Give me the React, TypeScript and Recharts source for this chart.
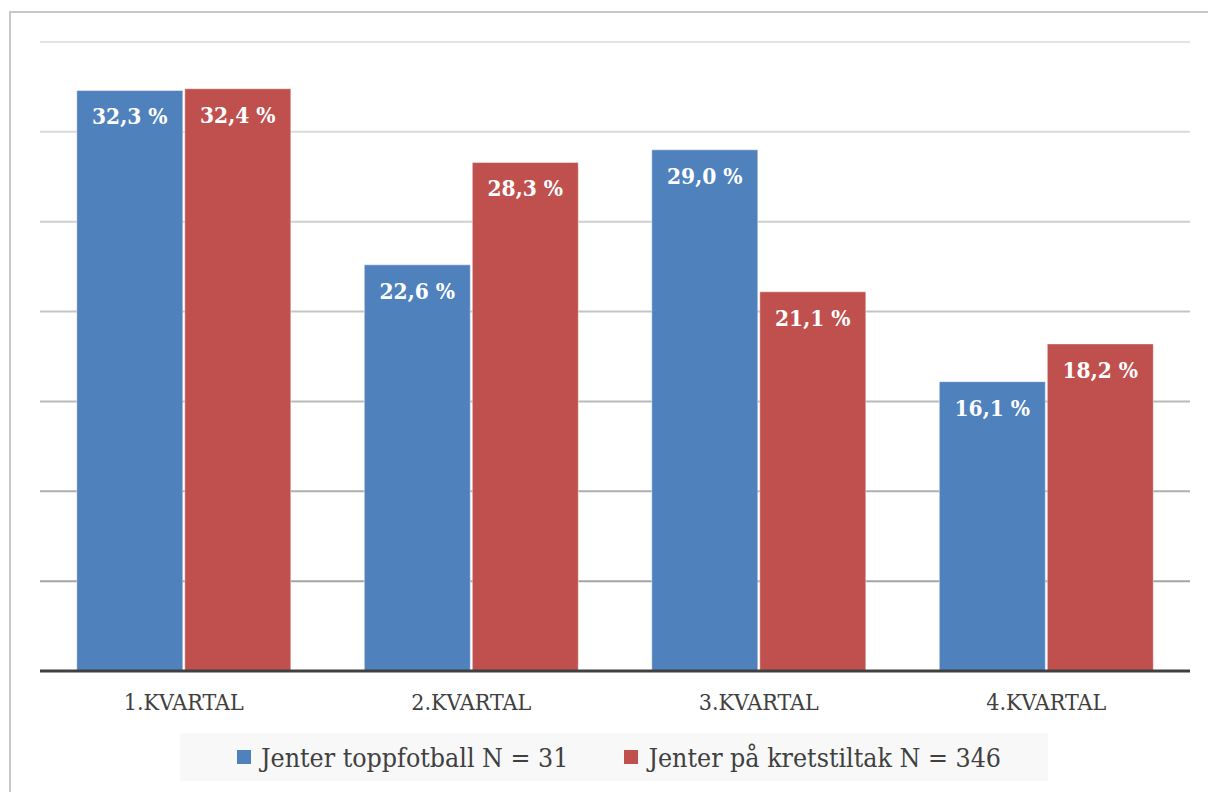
import React from 'react';
import { BarChart, Bar, XAxis, YAxis, CartesianGrid, LabelList } from 'recharts';

const categories = ['1.KVARTAL', '2.KVARTAL', '3.KVARTAL', '4.KVARTAL'];
const toppfotball = [32.3, 22.6, 29.0, 16.1];
const kretstiltak = [32.4, 28.3, 21.1, 18.2];
const seriesNames = ['Jenter toppfotball N = 31', 'Jenter på kretstiltak N = 346'];
const yTicks = [0, 5, 10, 15, 20, 25, 30, 35];

const COLORS = ['#4F81BD', '#C0504D'];
const FONT = '"DejaVu Serif Condensed", "DejaVu Serif", serif';

const data = categories.map((name, i) => ({
  name,
  a: toppfotball[i],
  b: kretstiltak[i],
}));

const fmt = (v: any) => `${Number(v).toFixed(1).replace('.', ',')} %`;

const labelStyle = { fill: '#ffffff', fontFamily: FONT, fontWeight: 700, fontSize: 22.5 };

export default function App() {
  return (
    <div style={{ position: 'absolute', left: 0, top: 0, width: 1208, height: 792, overflow: 'hidden', background: '#fff' }}>
      {/* chart frame, runs past the right and bottom edge */}
      <div style={{ position: 'absolute', left: 9, top: 11, width: 1400, height: 1000, border: '2px solid #c8c8c8', boxSizing: 'border-box' }} />
      <BarChart
        width={1208}
        height={792}
        data={data}
        margin={{ top: 42, right: 18, left: 40, bottom: 91 }}
        barCategoryGap="12.8%"
        barGap={2}
        style={{ position: 'absolute', left: 0, top: 0 }}
      >
        <defs>
          <linearGradient id="gridGrad" gradientUnits="userSpaceOnUse" x1="0" y1="42" x2="0" y2="671">
            <stop offset="0%" stopColor="#e4e4e4" />
            <stop offset="100%" stopColor="#9a9a9a" />
          </linearGradient>
        </defs>
        <CartesianGrid vertical={false} stroke="url(#gridGrad)" strokeWidth={2} />
        <YAxis hide domain={[0, 35]} ticks={yTicks} />
        <XAxis
          dataKey="name"
          height={30}
          tickLine={false}
          axisLine={{ stroke: '#404040', strokeWidth: 3 }}
          tick={{ fill: '#404040', fontFamily: FONT, fontSize: 23 }}
          dy={15}
        />
        <Bar dataKey="a" name={seriesNames[0]} fill={COLORS[0]} stroke="rgba(255,255,255,0.45)" strokeWidth={1} isAnimationActive={false}>
          <LabelList dataKey="a" position="insideTop" offset={18} formatter={fmt} style={labelStyle} />
        </Bar>
        <Bar dataKey="b" name={seriesNames[1]} fill={COLORS[1]} stroke="rgba(255,255,255,0.45)" strokeWidth={1} isAnimationActive={false}>
          <LabelList dataKey="b" position="insideTop" offset={18} formatter={fmt} style={labelStyle} />
        </Bar>
      </BarChart>
      <div
        style={{
          position: 'absolute', left: 180, top: 733, width: 868, height: 48, background: '#f8f8f8',
          display: 'flex', alignItems: 'center', paddingLeft: 57, boxSizing: 'border-box',
          fontFamily: FONT, fontSize: 26.5, color: '#404040', whiteSpace: 'nowrap',
        }}
      >
        {seriesNames.map((n, i) => (
          <div key={n} style={{ display: 'flex', alignItems: 'center', marginRight: 56, flexShrink: 0 }}>
            <div style={{ width: 14, height: 14, background: COLORS[i], marginRight: 10, flexShrink: 0 }} />
            <span>{n}</span>
          </div>
        ))}
      </div>
    </div>
  );
}
